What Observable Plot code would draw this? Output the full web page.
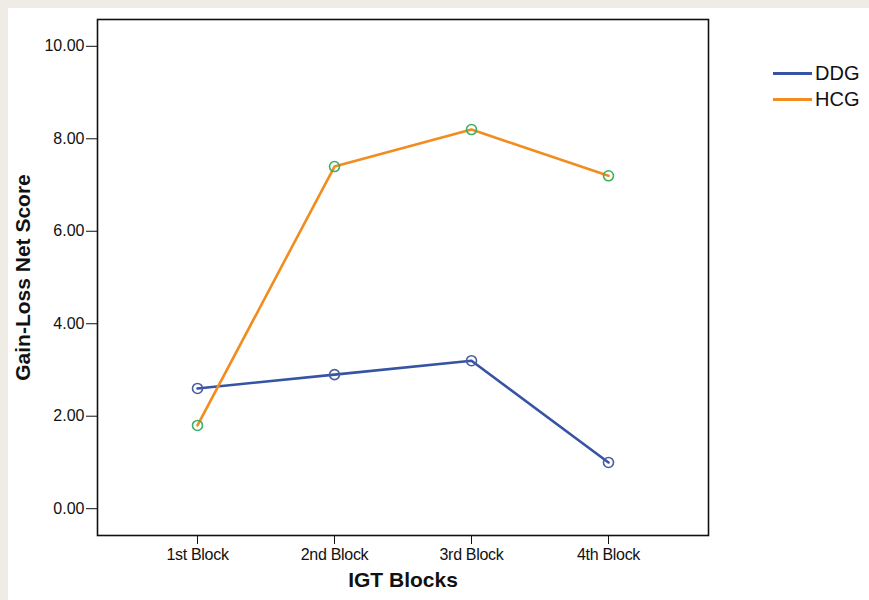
<!DOCTYPE html>
<html><head><meta charset="utf-8">
<script src="https://cdn.jsdelivr.net/npm/d3@7"></script>
<script src="https://cdn.jsdelivr.net/npm/@observablehq/plot@0.6"></script>
<style>
body{margin:0;background:#efece5;font-family:"Liberation Sans",Arial,sans-serif;}
#panel{position:absolute;left:8px;top:8px;width:861px;height:592px;background:#fff;overflow:hidden;}
#chart{position:absolute;left:0;top:0;}
#legend{position:absolute;left:765px;top:52px;}
.row{display:flex;align-items:center;height:26px;}
.sw{width:39px;height:3px;margin-right:3px;}
.lab{font-size:20px;color:#111;}
</style></head><body><div id="panel"><div id="chart"></div><div id="legend"></div></div><script>
const blocks = ["1st Block","2nd Block","3rd Block","4th Block"];
const groups = ["DDG","HCG"];
const ddg = [2.6, 2.9, 3.2, 1.0];
const hcg = [1.8, 7.4, 8.2, 7.2];
const yTicks = [0, 2, 4, 6, 8, 10];
const lineColors = ["#3653a4", "#f28c1e"];
const markerColors = ["#4a5e9f", "#3fae62"];

const series = {DDG: ddg, HCG: hcg};
const data = groups.flatMap(g => blocks.map((b, i) => ({block: b, group: g, value: series[g][i]})));

const plot = Plot.plot({
  width: 861, height: 592,
  marginLeft: 89, marginRight: 161, marginTop: 11, marginBottom: 65,
  style: {fontFamily: "Liberation Sans, Arial, sans-serif", fontSize: "16px", background: "transparent", color: "#111"},
  x: {type: "point", domain: blocks, padding: 0.714},
  y: {domain: [-0.58, 10.58]},
  color: {domain: groups, range: lineColors},
  marks: [
    Plot.frame({stroke: "#111", strokeWidth: 1.6}),
    Plot.axisY({ticks: yTicks, tickFormat: d3.format(".2f"), tickSize: 11, tickPadding: 2, tickStrokeWidth: 2.2,
      label: "Gain-Loss Net Score", labelAnchor: "center", labelArrow: "none", labelOffset: 82}),
    Plot.axisX({tickSize: 9, tickPadding: 4, tickStrokeWidth: 1.8,
      label: "IGT Blocks", labelAnchor: "center", labelArrow: "none", labelOffset: 51}),
    Plot.lineY(data, {x: "block", y: "value", stroke: "group", strokeWidth: 2.6}),
    Plot.dot(data, {x: "block", y: "value", r: 5, strokeWidth: 1.6, fill: "none",
      stroke: d => markerColors[groups.indexOf(d.group)]})
  ]
});
const svg = d3.select(plot);
svg.selectAll("g[aria-label='x-axis tick label'] text").style("letter-spacing", "-0.3px");
svg.selectAll("g[aria-label='y-axis label'] text, g[aria-label='x-axis label'] text")
  .style("font-size", "21px").style("font-weight", "bold");
document.getElementById("chart").appendChild(plot);

const legend = d3.select("#legend");
groups.forEach((g, i) => {
  const row = legend.append("div").attr("class", "row");
  row.append("div").attr("class", "sw").style("background", lineColors[i]);
  row.append("div").attr("class", "lab").text(g);
});
</script></body></html>
